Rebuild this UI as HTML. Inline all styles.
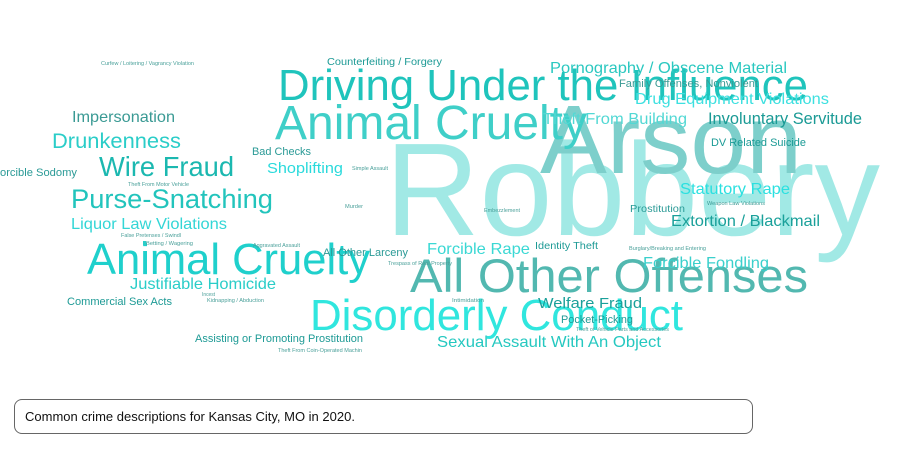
<!DOCTYPE html>
<html><head><meta charset="utf-8">
<style>
html,body{margin:0;padding:0;background:#fff;width:912px;height:473px;overflow:hidden;font-family:"Liberation Sans",Arial,sans-serif}
#cloud{position:absolute;left:0;top:0}
#caption{position:absolute;left:14px;top:399px;width:739px;height:35px;border:1px solid #666;border-radius:8px;box-sizing:border-box;font-size:13px;color:#111;line-height:34px;padding-left:10px}
</style></head><body>
<svg id="cloud" width="912" height="390" xmlns="http://www.w3.org/2000/svg"></svg>
<div id="caption">Common crime descriptions for Kansas City, MO in 2020.</div>
<script>
const words=["Robbery","Arson","Driving Under the Influence","Animal Cruelty","Animal Cruelty","All Other Offenses","Disorderly Conduct","Purse-Snatching","Wire Fraud","Drunkenness","Impersonation","orcible Sodomy","Liquor Law Violations","Justifiable Homicide","Commercial Sex Acts","Assisting or Promoting Prostitution","Bad Checks","Shoplifting","Counterfeiting / Forgery","Curfew / Loitering / Vagrancy Violation","Pornography / Obscene Material","Family Offenses, Nonviolent","Drug Equipment Violations","Theft From Building","Involuntary Servitude","DV Related Suicide","Statutory Rape","Weapon Law Violations","Prostitution","Extortion / Blackmail","Forcible Fondling","Burglary/Breaking and Entering","Identity Theft","Forcible Rape","All Other Larceny","Trespass of Real Property","Welfare Fraud","Pocket-Picking","Theft of Vehicle Parts and Accessories","Sexual Assault With An Object","Intimidation","Embezzlement","Simple Assault","Murder","Theft From Motor Vehicle","False Pretenses / Swindl","Betting / Wagering","Aggravated Assault","Incest","Kidnapping / Abduction","Theft From Coin-Operated Machin"];
const sizes=[132,97,44,48,44,47,44,27,28,21,16,11,16,16,11,11,11,15,10,5,16,11,16,16,17,11,16,5,10,16,16,5,10,16,11,5,15,11,5,16,5,5,5,5,5,5,5,5,5,5,5];
const xs=[385,540,278,275,87,410,310,71,99,52,72,0,71,130,67,195,252,267,327,101,550,619,635,543,708,711,680,707,630,671,643,629,535,427,323,388,538,561,576,437,452,484,352,345,128,121,146,253,202,207,278];
const ys=[235,173,100,139,274,292,330,208,176,148,122,176,229,289,305,342,155,173,65,65,73,87,104,124,124,146,194,205,212,226,268,250,249,254,256,265,308,323,331,347,302,212,170,208,186,237,245,247,296,302,352];
const widths=[495,262,530,312,283,398,373,202,135,129,103,77,156,146,105,168,59,76,115,93,237,139,194,144,154,95,110,58,55,149,126,77,63,103,85,64,104,72,93,224,32,36,36,18,61,60,47,47,13,57,84];
const colors=["#a1e9e5","#7dcfcb","#1fc4bc","#3fcfc8","#1fd0cc","#52b8b0","#30e6de","#22c4bc","#1bb8b0","#2acdc8","#3a9a94","#2a9a96","#33d6d6","#2acdc8","#1d9a95","#1d9a95","#2a9a96","#2adadc","#1d9a95","#4aa09a","#2ac8c0","#3a9a94","#3de0e0","#52d8d4","#1a9a95","#1a9a95","#2ae0e0","#3a9a94","#2a9a96","#1aa09a","#3ad0cc","#4aa09a","#1d9a95","#3ad8d4","#2a9a96","#4aa09a","#1aa09a","#1d9a95","#4aa09a","#25c8c0","#4aa09a","#4aa09a","#4aa09a","#4aa09a","#4aa09a","#4aa09a","#4aa09a","#4aa09a","#4aa09a","#4aa09a","#4aa09a"];
const svg=document.getElementById('cloud');
const NS='http://www.w3.org/2000/svg';
for(let i=0;i<words.length;i++){
  const t=document.createElementNS(NS,'text');
  
  
  t.setAttribute('x',xs[i]);t.setAttribute('y',ys[i]);
  t.setAttribute('font-size',sizes[i]);
  t.setAttribute('fill',colors[i]);
  t.setAttribute('font-family','"Liberation Sans", Arial, sans-serif');
  t.setAttribute('textLength',widths[i]);
  t.setAttribute('lengthAdjust','spacingAndGlyphs');
  t.textContent=words[i];
  svg.appendChild(t);
}
const sq=document.createElementNS(NS,'rect');


sq.setAttribute('x',143);sq.setAttribute('y',241);sq.setAttribute('width',3);sq.setAttribute('height',4);sq.setAttribute('fill','#2acdc8');
svg.appendChild(sq);
</script>
</body></html>
